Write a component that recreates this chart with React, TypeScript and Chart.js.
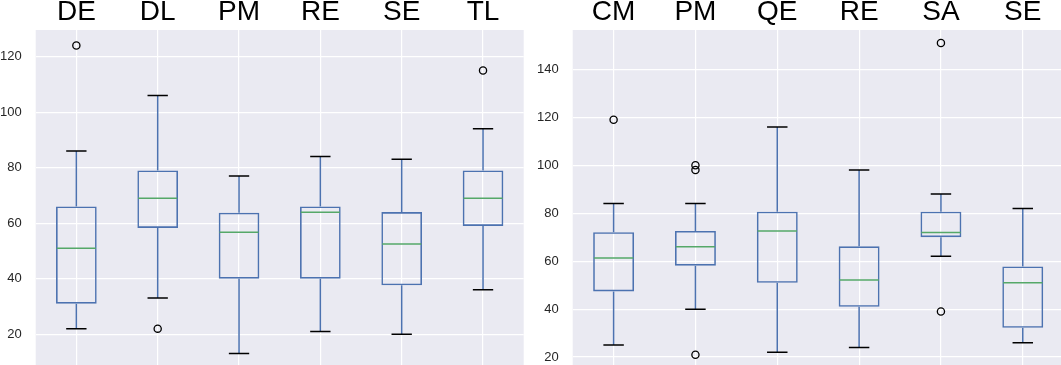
import React, { useEffect, useRef } from "react";
import { Chart, registerables } from "chart.js";

Chart.register(...registerables);

// ---------- Left panel data ----------
const leftCategories = ["DE", "DL", "PM", "RE", "SE", "TL"];
const leftLow = [22, 33, 13, 21, 20, 36];
const leftQ1 = [31, 58.3, 40, 40, 37.6, 59];
const leftMedian = [51, 69, 56.7, 63.9, 52.5, 69];
const leftQ3 = [66, 79, 63.8, 66, 64, 79];
const leftHigh = [86, 106, 77, 84, 83, 94];
const leftOutliers = [[124], [22], [], [], [], [115]];
const leftTicks = [20, 40, 60, 80, 100, 120];

// ---------- Right panel data ----------
const rightCategories = ["CM", "PM", "QE", "RE", "SA", "SE"];
const rightLow = [25, 40, 22, 24, 62, 26];
const rightQ1 = [47.4, 58.1, 51, 41, 70, 32.2];
const rightMedian = [61.3, 66, 72.6, 52.1, 72, 51];
const rightQ3 = [72.1, 72.6, 80.6, 66.2, 80.6, 57.8];
const rightHigh = [84, 84, 116, 98, 88, 82];
const rightOutliers = [[119], [100, 98, 21], [], [], [151, 39], []];
const rightTicks = [20, 40, 60, 80, 100, 120, 140];

const BG = "#EAEAF2";
const BLUE = "#4C72B0";
const GREEN = "#55A868";
const FONT = "'Liberation Sans', Arial, sans-serif";
const CANVAS_W = 600;
const CANVAS_H = 400;
const PLOT_TOP = 30; // page y of the plot's top edge
const PAGE_BOTTOM = 365; // page y where the picture ends

type PanelProps = {
  categories: string[];
  low: number[];
  q1: number[];
  median: number[];
  q3: number[];
  high: number[];
  outliers: number[][];
  ticks: number[];
  yTop: number; // value at the plot's top edge
  yBottom: number; // value at the page bottom
  plotLeft: number;
  plotWidth: number;
};

function BoxPanel(p: PanelProps) {
  const ref = useRef<HTMLCanvasElement | null>(null);

  useEffect(() => {
    const canvas = ref.current;
    if (!canvas) return;

    const boxPlugin = {
      id: "boxParts",
      beforeDraw(chart: any) {
        const { ctx, chartArea } = chart;
        ctx.save();
        ctx.fillStyle = BG;
        ctx.fillRect(
          chartArea.left,
          chartArea.top,
          chartArea.right - chartArea.left,
          chartArea.bottom - chartArea.top
        );
        ctx.restore();
      },
      afterDatasetsDraw(chart: any) {
        const { ctx } = chart;
        const xs = chart.scales.x;
        const ys = chart.scales.y;
        const meta = chart.getDatasetMeta(0);
        ctx.save();
        ctx.lineWidth = 1.5;
        p.categories.forEach((_, i) => {
          const cx = xs.getPixelForValue(i);
          const bar = meta.data[i] as any;
          const half = bar ? bar.width / 2 : 20;
          const capHalf = half / 2;
          ctx.strokeStyle = BLUE;
          ctx.beginPath();
          ctx.moveTo(cx, ys.getPixelForValue(p.q3[i]));
          ctx.lineTo(cx, ys.getPixelForValue(p.high[i]));
          ctx.moveTo(cx, ys.getPixelForValue(p.q1[i]));
          ctx.lineTo(cx, ys.getPixelForValue(p.low[i]));
          ctx.stroke();
          ctx.strokeStyle = "#000";
          ctx.beginPath();
          const yh = ys.getPixelForValue(p.high[i]);
          const yl = ys.getPixelForValue(p.low[i]);
          ctx.moveTo(cx - capHalf, yh);
          ctx.lineTo(cx + capHalf, yh);
          ctx.moveTo(cx - capHalf, yl);
          ctx.lineTo(cx + capHalf, yl);
          ctx.stroke();
          ctx.strokeStyle = GREEN;
          ctx.beginPath();
          const ym = ys.getPixelForValue(p.median[i]);
          ctx.moveTo(cx - half + 0.75, ym);
          ctx.lineTo(cx + half - 0.75, ym);
          ctx.stroke();
        });
        ctx.restore();
      },
    };

    const outlierPoints: { x: string; y: number }[] = [];
    p.outliers.forEach((vals, i) =>
      vals.forEach((v) => outlierPoints.push({ x: p.categories[i], y: v }))
    );

    const chart = new Chart(canvas, {
      type: "bar",
      data: {
        labels: p.categories,
        datasets: [
          {
            type: "bar",
            data: p.q1.map((v, i) => [v, p.q3[i]]) as any,
            backgroundColor: "rgba(0,0,0,0)",
            borderColor: BLUE,
            borderWidth: 1.6,
            borderSkipped: false,
            barPercentage: 0.5,
            categoryPercentage: 1,
            order: 2,
          } as any,
          {
            type: "scatter",
            data: outlierPoints as any,
            pointRadius: 3.6,
            pointHoverRadius: 3.6,
            pointStyle: "circle",
            borderColor: "#000",
            borderWidth: 1.3,
            backgroundColor: "rgba(0,0,0,0)",
            order: 1,
          } as any,
        ],
      },
      options: {
        animation: false,
        responsive: false,
        maintainAspectRatio: false,
        layout: { padding: { left: 0, top: 0, right: 0, bottom: 0 } },
        plugins: {
          legend: { display: false },
          tooltip: { enabled: false },
        },
        scales: {
          x: {
            type: "category",
            position: "top",
            offset: true,
            border: { display: false },
            grid: {
              offset: false,
              color: "#ffffff",
              lineWidth: 1.2,
              drawTicks: false,
              tickLength: 0,
            },
            ticks: {
              color: "#000",
              padding: 3.5,
              font: { family: FONT, size: 28, lineHeight: 1 },
              maxRotation: 0,
            },
          },
          y: {
            type: "linear",
            min: p.yBottom,
            max: p.yTop,
            border: { display: false },
            grid: {
              color: "#ffffff",
              lineWidth: 1.2,
              drawTicks: false,
              tickLength: 0,
            },
            afterBuildTicks: (scale: any) => {
              scale.ticks = p.ticks.map((v) => ({ value: v }));
            },
            ticks: {
              color: "#262626",
              padding: 14,
              font: { family: FONT, size: 13 },
            },
          },
        },
      } as any,
      plugins: [boxPlugin],
    });

    // Calibrate placement so that the plot area lands where it is in the picture
    const ca = chart.chartArea;
    const L = ca.left;
    const T = ca.top;
    const B = ca.bottom;
    const offX = Math.round(p.plotLeft - L);
    const offY = Math.round(PLOT_TOP - T);
    const plotTopPage = T + offY;
    const pxPerUnit = (PAGE_BOTTOM - plotTopPage) / (p.yTop - p.yBottom);
    const padRight = Math.max(0, CANVAS_W - L - p.plotWidth);
    (chart.options as any).layout.padding = { left: 0, top: 0, right: padRight, bottom: 0 };
    (chart.options as any).scales.y.min = p.yTop - (B - T) / pxPerUnit;
    (chart.options as any).scales.y.max = p.yTop;
    chart.update();
    canvas.style.left = offX + "px";
    canvas.style.top = offY + "px";

    return () => chart.destroy();
  }, []);

  return (
    <canvas
      ref={ref}
      width={CANVAS_W}
      height={CANVAS_H}
      style={{
        position: "absolute",
        left: 0,
        top: 0,
        width: CANVAS_W,
        height: CANVAS_H,
        display: "block",
      }}
    />
  );
}

export default function App() {
  return (
    <div
      style={{
        position: "fixed",
        left: 0,
        top: 0,
        width: 1061,
        height: 365,
        overflow: "hidden",
        background: "#ffffff",
      }}
    >
      <BoxPanel
        categories={leftCategories}
        low={leftLow}
        q1={leftQ1}
        median={leftMedian}
        q3={leftQ3}
        high={leftHigh}
        outliers={leftOutliers}
        ticks={leftTicks}
        yTop={129.6}
        yBottom={8.9}
        plotLeft={36}
        plotWidth={488}
      />
      <BoxPanel
        categories={rightCategories}
        low={rightLow}
        q1={rightQ1}
        median={rightMedian}
        q3={rightQ3}
        high={rightHigh}
        outliers={rightOutliers}
        ticks={rightTicks}
        yTop={156.4}
        yBottom={16.7}
        plotLeft={573}
        plotWidth={491}
      />
    </div>
  );
}
